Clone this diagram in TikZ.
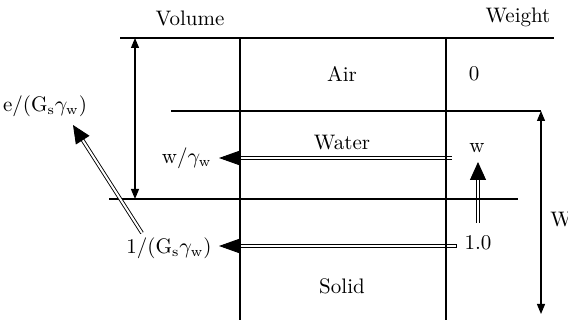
\documentclass[tikz,border=0pt]{standalone}
\usetikzlibrary{arrows.meta}
\begin{document}
\begin{tikzpicture}[
  x=0.5pt, y=-0.5pt,
  font=\fontsize{10.5}{12}\selectfont,
  wall/.style={line width=1.1pt},
  thin/.style={line width=0.7pt},
  dim/.style={line width=0.6pt, {Triangle[length=5pt,width=4pt]}-{Triangle[length=5pt,width=4pt]}},
  dbl/.style={double, double distance=1pt, line width=0.45pt, -{Triangle[length=10pt,width=7pt]}},
  lab/.style={inner sep=1pt}
]
\useasboundingbox (0,0) rectangle (568,320);

% corners and ends
\coordinate (bxtl) at (240,38);  \coordinate (bxtr) at (446,38);
\coordinate (bxbl) at (240,322); \coordinate (bxbr) at (446,322);
\coordinate (toplft) at (120,38); \coordinate (toprgt) at (554,38);
\coordinate (airl) at (171,111);  \coordinate (airr) at (541,111);
\coordinate (soll) at (109,199);  \coordinate (solr) at (518,199);
\coordinate (vtop) at (135,38);   \coordinate (vbot) at (135,199);
\coordinate (wtop) at (541,111);  \coordinate (wbot) at (541,314);
\coordinate (watr) at (452,158);  \coordinate (watl) at (219,158);
\coordinate (sdr) at (455,246);   \coordinate (sdl) at (219,246);
\coordinate (upb) at (478,223);   \coordinate (upt) at (478,162);
\coordinate (dgb) at (142,233);   \coordinate (dgt) at (73,125);

% phases
\draw[dbl] (watr) -- (watl);
\draw[dbl, line cap=rect] (sdr) -- (sdl);
\draw[dbl, -{Triangle[length=9pt,width=8pt]}] (upb) -- (upt);
\draw[wall] (toplft) -- (bxtr);
\draw[thin] (bxtr) -- (toprgt);
\draw[wall] (airl) -- (airr);
\draw[thin] (soll) -- (solr);
\draw[wall] (bxtl) -- (bxbl);
\draw[wall] (bxtr) -- (bxbr);
\draw[dim] (vtop) -- (vbot);
\draw[dim] (wtop) -- (wbot);
\draw[dbl, -{Triangle[length=9pt,width=8pt]}] (dgb) -- (dgt);

% labels
\node[lab] (volume) at (190,18) {Volume};
\node[lab] (weight) at (518,17) {Weight};
\node[lab] (air) at (342,74) {Air};
\node[lab] (zero) at (474,74) {0};
\node[lab] (water) at (342,143) {Water};
\node[lab] (wlab) at (477,148) {w};
\node[lab] (one) at (478,243) {1.0};
\node[lab] (solid) at (342,286) {Solid};
\node[lab, anchor=west] (wtot) at (548,220) {W};
\node[lab, anchor=east] (wgw) at (214,158) {w/$\gamma_\mathrm{w}$};
\node[lab, anchor=east] (gsgw) at (214,248) {1/(G$_\mathrm{s}\gamma_\mathrm{w}$)};
\node[lab] (egw) at (45,106) {e/(G$_\mathrm{s}\gamma_\mathrm{w}$)};
\end{tikzpicture}
\end{document}
